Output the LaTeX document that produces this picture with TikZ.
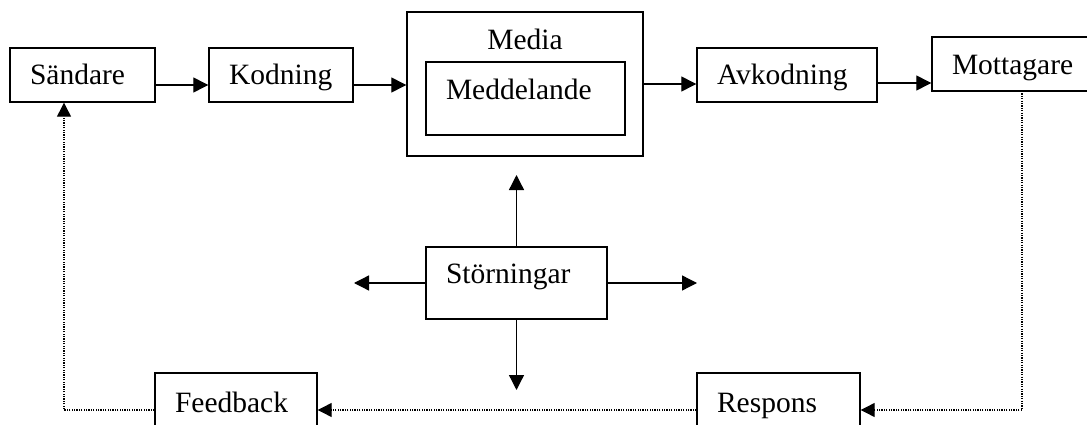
\documentclass[tikz,border=0pt]{standalone}
\usepackage{fontspec}
\setmainfont{Liberation Serif}
\usetikzlibrary{arrows.meta,calc}
\begin{document}
\begin{tikzpicture}[x=1pt,y=1pt,
  box/.style={draw,line width=1.4pt,inner xsep=20pt,inner ysep=0pt,align=left,
    font=\fontsize{29.5}{34}\selectfont},
  conn/.style={line width=1.3pt,-{Triangle[length=15pt,width=15pt]}},
  fb/.style={line width=1.2pt,dash pattern=on 1.2pt off 1.2pt,-{Triangle[length=14pt,width=14pt]}}]
\useasboundingbox (0,0) rectangle (1087,-425);
\node[box,text width=105pt,text height=37pt,text depth=17pt] (sand) at (82.5,-75) {Sändare};
\node[box,text width=104pt,text height=37pt,text depth=17pt] (kod) at (281,-75) {Kodning};
\node[box,align=center,text width=196pt,text height=38pt,text depth=106pt] (media) at (525,-84) {Media};
\node[box,text width=159pt,text height=38pt,text depth=35pt] (medd) at (525.5,-98.5) {Meddelande};
\node[box,text width=140pt,text height=37pt,text depth=17pt] (avk) at (787,-75) {Avkodning};
\node[box,text width=120pt,text height=38pt,text depth=16pt] (mott) at (1012,-64) {Mottagare};
\node[box,text width=141pt,text height=36pt,text depth=36pt] (stor) at (516.5,-283) {Störningar};
\node[box,text width=122pt,text height=39pt,text depth=28pt] (feed) at (236,-406.5) {Feedback};
\node[box,text width=123pt,text height=39pt,text depth=28pt] (resp) at (778.5,-406.5) {Respons};
% main chain
\draw[conn] ($(sand.east)+(0,-10)$) -- ($(kod.west)+(0,-10)$);
\draw[conn] ($(kod.east)+(0,-10)$) -- ($(media.west)+(0,-1)$);
\draw[conn] (media.east) -- (media.east -| avk.west);
\draw[conn] ($(avk.east)+(0,-8)$) -- ($(mott.west)+(0,-19)$);
% disturbances
\coordinate (su) at (516.5,-175);
\coordinate (sd) at (516.5,-390);
\coordinate (sl) at (354,-283);
\coordinate (sr) at (697,-283);
\draw[conn] (stor.north) -- (su);
\draw[conn] (stor.south) -- (sd);
\draw[conn] (stor.west) -- (sl);
\draw[conn] (stor.east) -- (sr);
% feedback loop
\coordinate (m1) at (1022,-91);
\coordinate (m2) at (1022,-410);
\coordinate (f1) at (64,-410);
\draw[fb] (m1) -- (m2) -- (m2 -| resp.east);
\draw[fb] ($(resp.west)+(0,-3.5)$) -- ($(feed.east)+(0,-3.5)$);
\draw[fb] ($(feed.west)+(0,-3.5)$) -- (f1) -- (f1 |- sand.south);
\end{tikzpicture}
\end{document}
